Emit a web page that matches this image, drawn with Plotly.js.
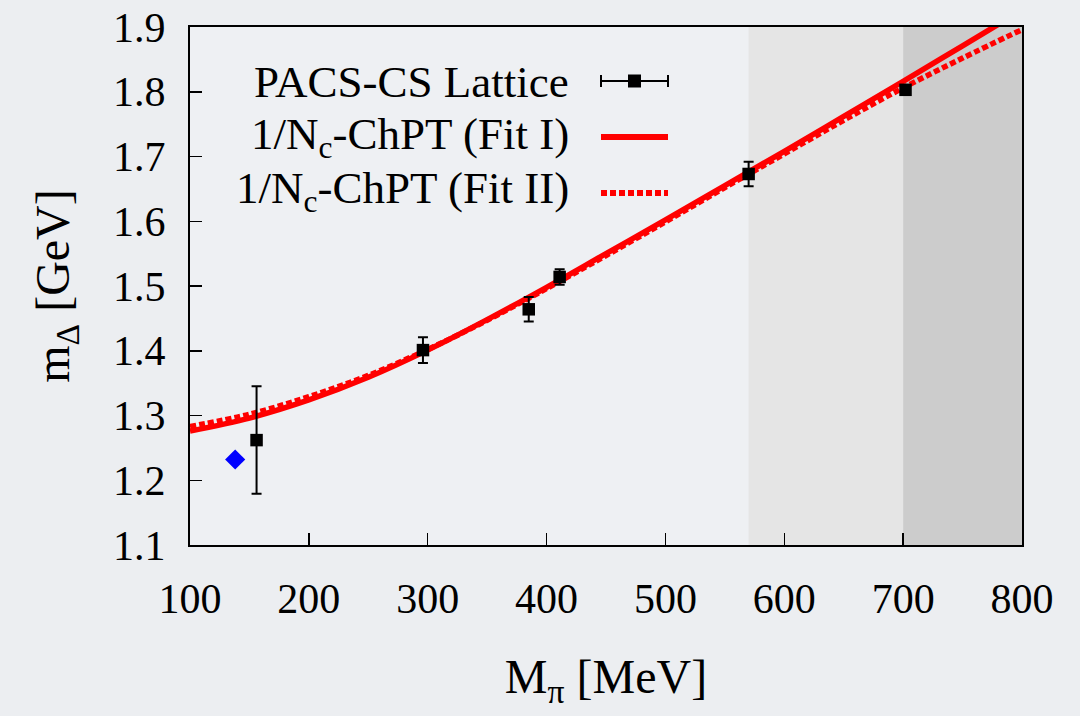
<!DOCTYPE html>
<html>
<head>
<meta charset="utf-8">
<script src="https://cdn.plot.ly/plotly-3.0.1.min.js"></script>
<style>
html,body{margin:0;padding:0;background:#eceef1;}
#chart{width:1080px;height:716px;}
</style>
</head>
<body>
<div id="chart"></div>
<script>
// PACS-CS lattice data
var latticeMpi = [156, 296, 385, 411, 570, 702];
var latticeMDelta = [1.262, 1.401, 1.464, 1.514, 1.673, 1.803];
var latticeErr = [0.083, 0.020, 0.019, 0.012, 0.019, 0.005];

// physical point
var physMpi = [138];
var physMDelta = [1.232];

// 1/Nc-ChPT fits
var fitMpi = [100, 150, 200, 250, 300, 350, 400, 450, 500, 550, 600, 650, 700, 750, 800];
var fitI  = [1.276, 1.296, 1.324, 1.359, 1.401, 1.448, 1.498, 1.550, 1.602, 1.655, 1.708, 1.762, 1.816, 1.871, 1.926];
var fitII = [1.283, 1.302, 1.329, 1.362, 1.402, 1.447, 1.496, 1.547, 1.599, 1.652, 1.704, 1.756, 1.806, 1.852, 1.896];

// shaded regions (MeV)
var lightBand = [570, 700];
var darkBand = [700, 800];

var legendLabels = ['PACS-CS Lattice', '1/N<sub>c</sub>-ChPT (Fit I)', '1/N<sub>c</sub>-ChPT (Fit II)'];

var FONT = "'Liberation Serif', 'Times New Roman', 'DejaVu Serif', serif";

var traces = [
  {x: fitMpi, y: fitI, mode: 'lines', line: {color: '#ff0000', width: 5.5, shape: 'spline', smoothing: 1}, showlegend: false, hoverinfo: 'skip'},
  {x: fitMpi, y: fitII, mode: 'lines', line: {color: '#ff0000', width: 5.5, dash: '6px,3px', shape: 'spline', smoothing: 1}, showlegend: false, hoverinfo: 'skip'},
  {x: latticeMpi, y: latticeMDelta, mode: 'markers',
   marker: {symbol: 'square', size: 12.5, color: '#000000'},
   error_y: {type: 'data', array: latticeErr, visible: true, color: '#000000', thickness: 2, width: 5},
   showlegend: false},
  {x: physMpi, y: physMDelta, mode: 'markers',
   marker: {symbol: 'diamond', size: 15.5, color: '#0000ff'}, showlegend: false}
];

// pixel -> paper helpers for the hand-made legend
var L = 190, R = 1022, T = 27, B = 545;
function px(x){ return (x - L) / (R - L); }
function py(y){ return (B - y) / (B - T); }

var shapes = [
  {type: 'rect', xref: 'x', yref: 'paper', x0: lightBand[0], x1: lightBand[1], y0: 0, y1: 1, fillcolor: '#e5e5e5', line: {width: 0}, layer: 'below'},
  {type: 'rect', xref: 'x', yref: 'paper', x0: darkBand[0], x1: darkBand[1], y0: 0, y1: 1, fillcolor: '#cccccc', line: {width: 0}, layer: 'below'},
  // legend samples
  {type: 'line', xref: 'paper', yref: 'paper', x0: px(601), x1: px(668), y0: py(81), y1: py(81), line: {color: '#000', width: 2}},
  {type: 'line', xref: 'paper', yref: 'paper', x0: px(601), x1: px(601), y0: py(75), y1: py(87), line: {color: '#000', width: 2}},
  {type: 'line', xref: 'paper', yref: 'paper', x0: px(668), x1: px(668), y0: py(75), y1: py(87), line: {color: '#000', width: 2}},
  {type: 'rect', xref: 'paper', yref: 'paper', x0: px(628), x1: px(641), y0: py(74.5), y1: py(87.5), fillcolor: '#000', line: {width: 0}},
  {type: 'line', xref: 'paper', yref: 'paper', x0: px(601), x1: px(668), y0: py(137), y1: py(137), line: {color: '#ff0000', width: 6}},
  {type: 'line', xref: 'paper', yref: 'paper', x0: px(601), x1: px(668), y0: py(193), y1: py(193), line: {color: '#ff0000', width: 6, dash: '6px,3px'}}
];

var annotations = [
  {text: legendLabels[0], xref: 'paper', yref: 'paper', x: px(571), y: py(82), xanchor: 'right', yanchor: 'middle', showarrow: false, font: {family: FONT, size: 45, color: '#000'}},
  {text: legendLabels[1], xref: 'paper', yref: 'paper', x: px(571), y: py(137), xanchor: 'right', yanchor: 'middle', showarrow: false, font: {family: FONT, size: 45, color: '#000'}},
  {text: legendLabels[2], xref: 'paper', yref: 'paper', x: px(571), y: py(191), xanchor: 'right', yanchor: 'middle', showarrow: false, font: {family: FONT, size: 45, color: '#000'}}
];

var layout = {
  width: 1080, height: 716,
  margin: {l: L, r: 1080 - R, t: T, b: 716 - B, pad: 0},
  paper_bgcolor: '#eceef1',
  plot_bgcolor: '#eef0f3',
  font: {family: FONT, size: 42, color: '#000'},
  xaxis: {
    range: [100, 800], dtick: 100, tick0: 100,
    showgrid: false, zeroline: false,
    ticks: 'inside', ticklen: 12, tickwidth: 1.5, tickcolor: '#000',
    showline: true, linecolor: '#000', linewidth: 2, mirror: true,
    tickfont: {family: FONT, size: 42, color: '#000'},
    ticklabelstandoff: 16,
    title: {text: 'M<sub>π</sub> [MeV]', font: {family: FONT, size: 48, color: '#000'}, standoff: 38},
    automargin: false
  },
  yaxis: {
    range: [1.1, 1.9], dtick: 0.1, tick0: 1.1, tickformat: '.1f',
    showgrid: false, zeroline: false,
    ticks: 'inside', ticklen: 12, tickwidth: 1.5, tickcolor: '#000',
    showline: true, linecolor: '#000', linewidth: 2, mirror: true,
    tickfont: {family: FONT, size: 42, color: '#000'},
    ticklabelstandoff: 14,
    title: {text: 'm<sub>Δ</sub> [GeV]', font: {family: FONT, size: 48, color: '#000'}, standoff: 28},
    automargin: false
  },
  shapes: shapes,
  annotations: annotations,
  showlegend: false
};

Plotly.newPlot('chart', traces, layout, {displayModeBar: false, staticPlot: true});
</script>
</body>
</html>
